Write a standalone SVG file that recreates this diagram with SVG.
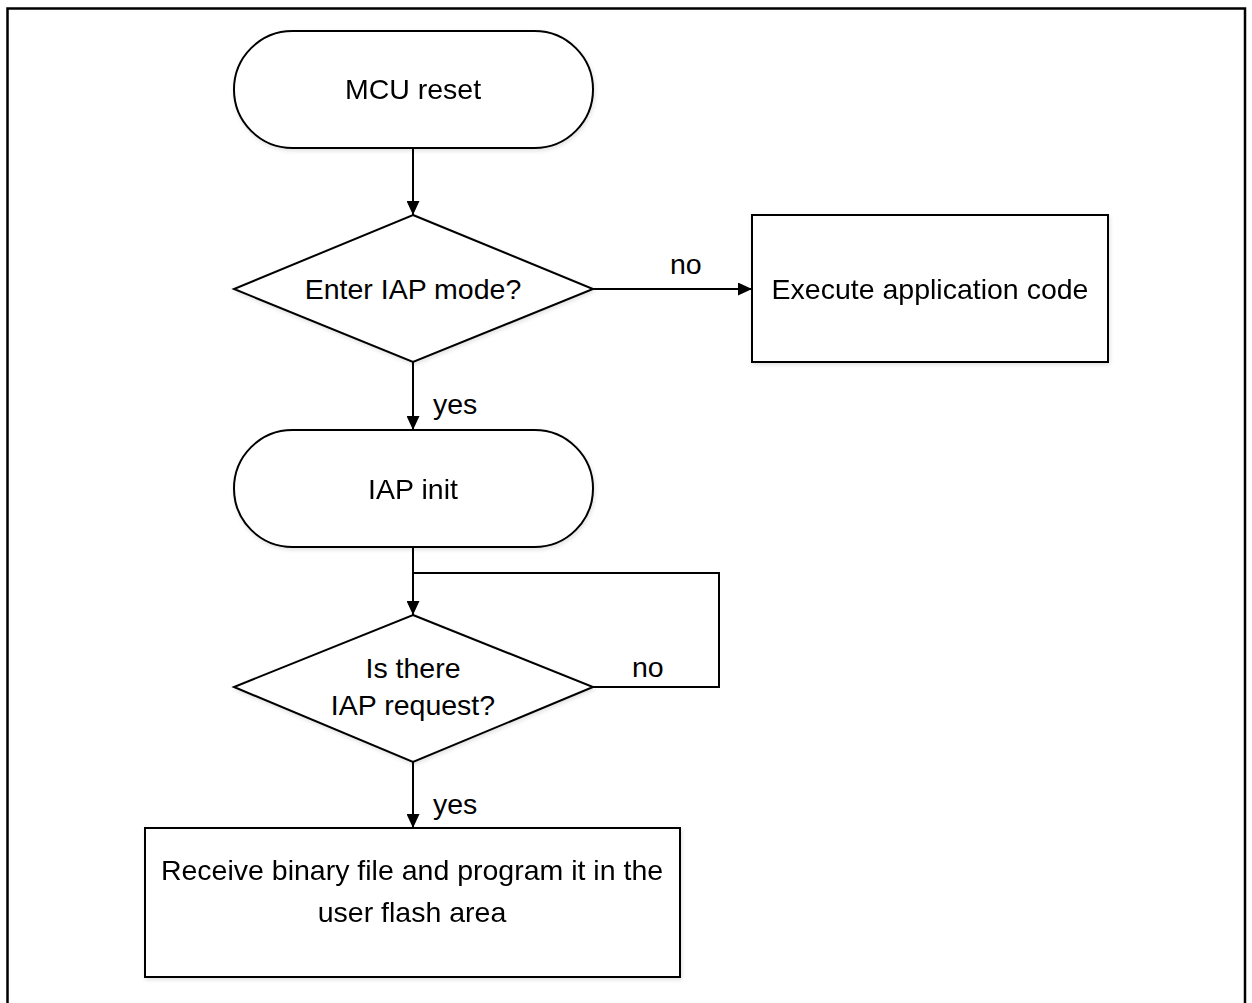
<svg xmlns="http://www.w3.org/2000/svg" width="1252" height="1003" viewBox="0 0 1252 1003">
<defs>
<marker id="arr" markerWidth="14" markerHeight="13" refX="14" refY="6.5" orient="auto" markerUnits="userSpaceOnUse">
<path d="M0,0 L14,6.5 L0,13 Z" fill="#000"/>
</marker>
<filter id="sh" x="-10%" y="-10%" width="120%" height="130%">
<feGaussianBlur in="SourceAlpha" stdDeviation="2"/>
<feOffset dx="1" dy="2"/>
<feComponentTransfer><feFuncA type="linear" slope="0.12"/></feComponentTransfer>
<feMerge><feMergeNode/><feMergeNode in="SourceGraphic"/></feMerge>
</filter>
</defs>
<style>
.s{fill:#fff;stroke:#000;stroke-width:2}
.t{font-family:"Liberation Sans",Arial,sans-serif;font-size:28.5px;fill:#000;text-anchor:middle}
.l{font-family:"Liberation Sans",Arial,sans-serif;font-size:28.5px;fill:#000}
.c{fill:none;stroke:#000;stroke-width:2}
</style>
<rect width="1252" height="1003" fill="#fff"/>
<path d="M7.5,1003 V8.5 H1245 V1003" fill="none" stroke="#000" stroke-width="2.5"/>
<g id="mcu-reset" filter="url(#sh)">
<rect class="s" x="234" y="31" width="359" height="117" rx="58.5" ry="58.5"/>
<text class="t" x="413" y="99">MCU reset</text>
</g>
<g id="enter-iap">
<polygon class="s" points="413,215 593,289 413,362 234,289" filter="url(#sh)"/>
<text class="t" x="413" y="299">Enter IAP mode?</text>
</g>
<g id="execute-app" filter="url(#sh)">
<rect class="s" x="752" y="215" width="356" height="147"/>
<text class="t" x="930" y="299">Execute application code</text>
</g>
<g id="iap-init" filter="url(#sh)">
<rect class="s" x="234" y="430" width="359" height="117" rx="58.5" ry="58.5"/>
<text class="t" x="413" y="499">IAP init</text>
</g>
<g id="iap-request">
<polygon class="s" points="413,615 593,687 413,762 234,687" filter="url(#sh)"/>
<text class="t" x="413" y="678">Is there</text>
<text class="t" x="413" y="715">IAP request?</text>
</g>
<g id="receive" filter="url(#sh)">
<rect class="s" x="145" y="828" width="535" height="149"/>
<text class="t" x="412" y="880">Receive binary file and program it in the</text>
<text class="t" x="412" y="922">user flash area</text>
</g>
<g id="connectors">
<line class="c" x1="413" y1="148" x2="413" y2="215" marker-end="url(#arr)"/>
<line class="c" x1="593" y1="289" x2="752" y2="289" marker-end="url(#arr)"/>
<line class="c" x1="413" y1="362" x2="413" y2="430" marker-end="url(#arr)"/>
<line class="c" x1="413" y1="547" x2="413" y2="615" marker-end="url(#arr)"/>
<polyline class="c" points="593,687 719,687 719,573 413,573"/>
<line class="c" x1="413" y1="762" x2="413" y2="828" marker-end="url(#arr)"/>
<text class="l" x="670" y="274">no</text>
<text class="l" x="433" y="414">yes</text>
<text class="l" x="632" y="677">no</text>
<text class="l" x="433" y="814">yes</text>
</g>
</svg>
